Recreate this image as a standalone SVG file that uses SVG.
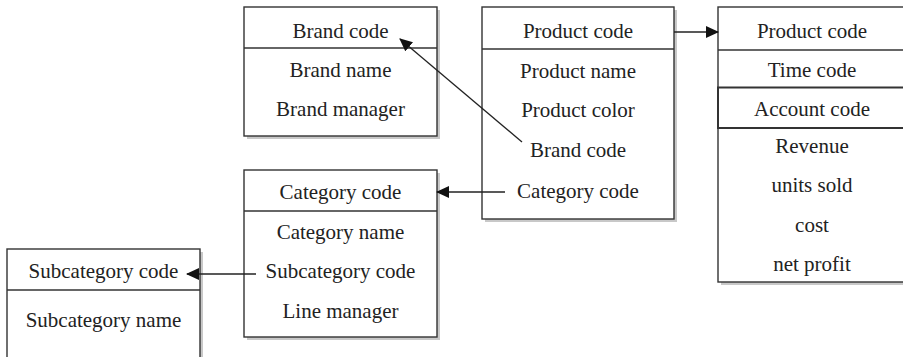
<svg xmlns="http://www.w3.org/2000/svg" width="903" height="357" viewBox="0 0 903 357">
<defs>
<style>
.box{fill:#fff;stroke:#333;stroke-width:1.4}
.sh{fill:#c8c8c8}
.div{stroke:#333;stroke-width:1.4}
text{font-family:"Liberation Serif","Times New Roman",serif;font-size:21px;fill:#222;text-anchor:middle}
.conn{stroke:#222;stroke-width:1.3;fill:none;marker-end:url(#ah)}
</style>
<marker id="ah" markerUnits="userSpaceOnUse" markerWidth="14" markerHeight="12" refX="12" refY="6" orient="auto" viewBox="0 0 14 12">
<path d="M0,0 L13,6 L0,12 z" fill="#111"/>
</marker>
</defs>
<rect width="903" height="357" fill="#fff"/>
<g id="brand">
<rect class="sh" x="247" y="10" width="193" height="129"/>
<rect class="box" x="244" y="7" width="193" height="129"/>
<line class="div" x1="244" y1="48" x2="437" y2="48"/>
<text x="340.5" y="38">Brand code</text>
<text x="340.5" y="77">Brand name</text>
<text x="340.5" y="116">Brand manager</text>
</g>
<g id="product">
<rect class="sh" x="485" y="10" width="192" height="212"/>
<rect class="box" x="482" y="7" width="192" height="212"/>
<line class="div" x1="482" y1="49" x2="674" y2="49"/>
<text x="578" y="38">Product code</text>
<text x="578" y="78">Product name</text>
<text x="578" y="117">Product color</text>
<text x="578" y="157">Brand code</text>
<text x="578" y="198">Category code</text>
</g>
<g id="fact">
<rect class="sh" x="721" y="10" width="190" height="275"/>
<rect class="box" x="718" y="7" width="190" height="275"/>
<line class="div" x1="718" y1="50" x2="908" y2="50"/>
<rect x="718" y="87.5" width="190" height="40.5" fill="none" stroke="#333" stroke-width="2"/>
<text x="812" y="38">Product code</text>
<text x="812" y="77">Time code</text>
<text x="812" y="116">Account code</text>
<text x="812" y="153">Revenue</text>
<text x="812" y="192">units sold</text>
<text x="812" y="232">cost</text>
<text x="812" y="271">net profit</text>
</g>
<g id="category">
<rect class="sh" x="247" y="173" width="193" height="167"/>
<rect class="box" x="244" y="170" width="193" height="167"/>
<line class="div" x1="244" y1="211" x2="437" y2="211"/>
<text x="340.5" y="199">Category code</text>
<text x="340.5" y="239">Category name</text>
<text x="340.5" y="278">Subcategory code</text>
<text x="340.5" y="318">Line manager</text>
</g>
<g id="subcategory">
<rect class="sh" x="10" y="252" width="193" height="120"/>
<rect class="box" x="7" y="249" width="193" height="120"/>
<line class="div" x1="7" y1="290" x2="200" y2="290"/>
<text x="103.5" y="278">Subcategory code</text>
<text x="103.5" y="327">Subcategory name</text>
</g>
<g id="connectors">
<line class="conn" x1="674" y1="32" x2="718" y2="32"/>
<line class="conn" x1="522" y1="142" x2="400" y2="39"/>
<line class="conn" x1="505" y1="192" x2="437" y2="192"/>
<line class="conn" x1="256" y1="274" x2="187" y2="274"/>
</g>
</svg>
